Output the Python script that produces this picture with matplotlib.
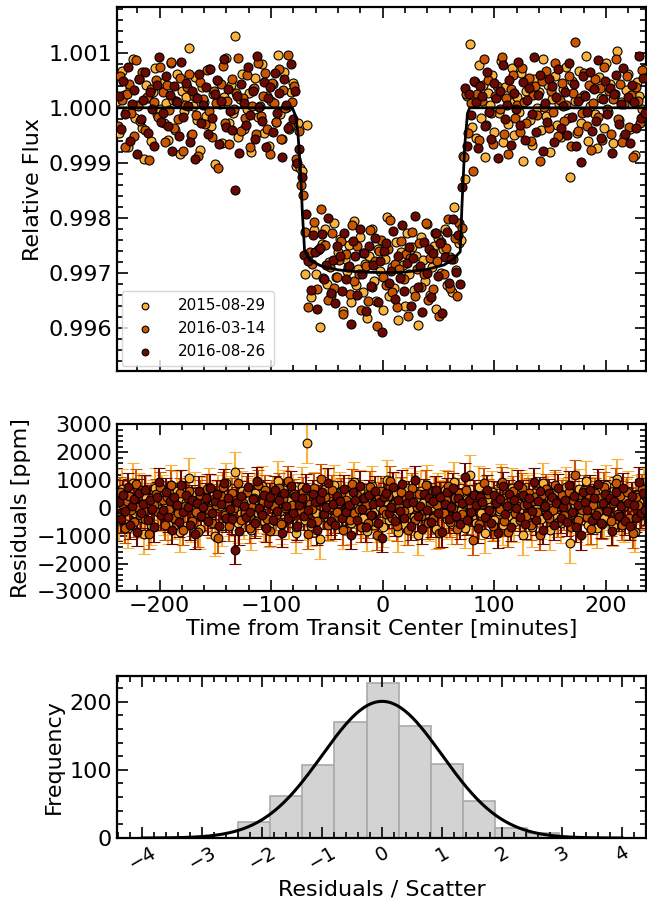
import numpy as np
import matplotlib
matplotlib.use("Agg")
import matplotlib.pyplot as plt
from matplotlib.ticker import MultipleLocator, FormatStrFormatter

# fecha de cada visita y su color
dates = ["2015-08-29", "2016-03-14", "2016-08-26"]
colors = ["#fbb23c", "#cc5500", "#6a0a02"]
t_start = [-238.0, -237.3, -236.6]   # minutos, primer punto de cada visita
cadence = 2.0                          # minutos entre puntos
err_ppm = [720, 540, 520]              # barra de error tipica por visita

res_2015 = [12, -45, 67, 23, -8, -71, 34, 88, -19, 5, 52, -36, -94, 41, 17, -60, 29, 73, -12, -3,
            46, -27, 9, -58, 81, 14, -40, 62, -85, 31, -6, 20, 108, -49, 3, 56, -22, -77, 38, 11,
            -15, 70, -33, 25, -102, 48, 7, -64, 19, 90, -28, 42, -9, 130, -53, 16, 61, -38, -2, 27,
            -80, 35, 54, -17, 4, 79, -46, 22, -70, 13, 44, -25, 97, -11, -57, 66, 1, -39, 28, 50,
            -91, 18, -5, 75, -43, 235, 8, -66, 58, -20, 26, -112, 40, 69, -31, 10, -48, 84, -14, 33,
            57, -74, 21, -1, 47, -56, 92, -24, 6, 63, -37, 15, -83, 30, 78, -16, -52, 43, 2, -68,
            24, 101, -42, 9, -29, 55, -87, 36, 13, -61, 71, -4, 45, -34, 26, -99, 60, 18, -21, 82,
            -47, 3, 39, -76, 52, -13, 29, 65, -41, 8, -58, 94, -26, 20, -6, 48, -72, 32, 117, -35,
            14, -55, 77, -18, 41, -89, 27, 5, 59, -44, 22, -10, 86, -63, 37, -30, 11, 72, -50, 19,
            -7, 64, -96, 31, 46, -23, -67, 53, 0, 28, -40, 89, -15, 42, -81, 16, 58, -32, 7, -54,
            35, 74, -19, -126, 49, 12, -45, 67, -28, 23, 95, -60, 4, 38, -12, -73, 56, 17, -37, 81,
            -8, 44, -64, 25, 103, -22, 10, -51, 33, 62, -39, 15, -86, 47, 21, -3, 70]
res_2016a = [-33, 58, 14, -71, 26, 43, -9, -52, 87, 3, -24, 66, -41, 19, -95, 35, 10, 50, -16, 74,
             29, -62, 41, -4, 83, -37, 12, -20, 55, -78, 6, 38, 61, -47, 22, -13, -88, 47, 16, -30,
             68, -6, -54, 31, 9, -109, 44, 76, -27, 13, -65, 52, -2, 27, 90, -43, 17, -19, 59, -72,
             4, 36, -48, 81, -15, 21, 63, -39, -84, 45, 8, -25, 70, -57, 32, -1, 97, -33, 11, 49,
             -68, 24, -11, 56, 37, -92, 15, -5, 73, -46, 28, 104, -21, 40, -60, 2, 65, -35, -14, 18,
             53, -79, 30, 7, -42, 85, -18, 46, -3, -69, 34, 12, -53, 77, -26, 20, -98, 39, 60, -8,
             -23, 42, 95, -36, 16, -64, 5, 57, -12, 33, -81, 25, 71, -45, 3, 49, -30, -7, 84, -56,
             19, -38, 62, 10, -90, 43, -17, 28, 79, -50, 1, 36, -74, 54, -22, 15, 66, -40, 8, -115,
             47, 26, -59, 13, 88, -31, 51, -10, -66, 22, 40, -3, 93, -48, 17, -85, 34, 60, -19, 6,
             -44, 72, 11, -28, 55, -61, 24, 39, -14, -96, 48, 2, 67, -37, 30, -8, 82, -52, 14, 45,
             -24, 5, 58, -70, 27, 120, -43, 18, -9, 64, -33, 41, -76, 9, 52, -16, 36, -58, 75, -2,
             31, -47, 16, 89, -21, 44, -63, 7, 57, -35, 23, -89, 38, 12, -27, 69, -11]
res_2016b = [21, -39, 48, -12, 75, -60, 7, 33, -85, 52, -20, 14, 66, -45, 29, -3, -70, 41, 92, -26,
             -9, 57, -33, 24, -78, 39, 11, -51, 83, -16, 46, 3, -62, 30, -94, 18, 61, -28, 5, 37,
             -47, 70, -19, 26, 50, -66, 13, 88, -35, 35, -5, -40, -150, 22, -83, 44, 8, -31, 74, -14,
             31, -56, 95, 1, -24, 47, -72, 17, 38, -44, 64, -10, 27, -89, 53, 6, -36, 80, -18, 42,
             -65, 12, 36, -29, 71, -7, -53, 49, 20, -81, 32, 58, -23, 4, 90, -46, 15, -61, 43, 25,
             -38, 68, -15, 9, -97, 56, 28, -42, 79, -4, 34, -70, 47, -25, 13, 62, -54, 21, -108, 39,
             54, -20, 3, 76, -48, 30, -11, 86, -35, 16, 45, -64, 23, 99, -30, 8, -77, 51, -6, 37,
             -52, 26, 63, -17, 41, -87, 14, 57, -39, 2, 72, -28, 35, -59, 18, 110, -45, 29, -13, 48,
             10, -73, 39, 22, -34, 65, -8, -56, 45, 17, -91, 31, 78, -21, 6, 50, -67, 27, -2, 84,
             -31, 47, -58, 15, 36, -12, 92, -44, 24, 60, -79, 8, -26, 53, 40, -63, 19, 71, -37, 3,
             28, -50, 81, -16, 44, -69, 12, -98, 57, 22, -7, 66, -42, 34, -24, 87, -55, 16, 49, -11,
             36, -82, 25, 59, -30, 7, 73, -47, 19, -64, 42, 11, -36, 94, -19, 55, -9]
residuals = [res_2015, res_2016a, res_2016b]

model_t = [-240, -81, -78, -76, -73.5, -72, -70, -65, -55, -40, -20, 0, 20, 40, 55, 63,
           69.5, 71, 73.5, 76, 78, 240]
model_f = [1.0, 1.0, 0.99985, 0.99955, 0.9988, 0.9981, 0.99740, 0.99722, 0.99712, 0.99705,
           0.99701, 0.99700, 0.99701, 0.99706, 0.99714, 0.99724, 0.99738, 0.9982, 0.9993,
           0.9999, 1.0, 1.0]

# histograma de residuos / dispersion
hist_left = -2.40
hist_width = 0.535
hist_counts = [23, 62, 107, 170, 227, 164, 109, 54, 15, 8]

plt.rcParams['font.size'] = 16
fig = plt.figure(figsize=(6.47, 9.07), dpi=100)
ax1 = fig.add_axes([0.181, 0.591, 0.8175, 0.401])
ax2 = fig.add_axes([0.181, 0.348, 0.8175, 0.184])
ax3 = fig.add_axes([0.181, 0.076, 0.8175, 0.179])

def estilo(ax):
    ax.tick_params(which='both', direction='in', top=True, right=True, width=1.2)
    ax.tick_params(which='major', length=8)
    ax.tick_params(which='minor', length=4)
    for s in ax.spines.values():
        s.set_linewidth(1.6)

for i in range(3):
    res = np.array(residuals[i]) * 10.0
    t = t_start[i] + cadence * np.arange(len(res))
    flux = np.interp(t, model_t, model_f) + res * 1e-6
    ax1.scatter(t, flux, s=42, color=colors[i], edgecolors='k', linewidths=0.8,
                label=dates[i], zorder=3)
    ax2.errorbar(t, res, yerr=err_ppm[i], fmt='o', color=colors[i], ecolor=colors[i],
                 mec='k', mew=0.8, ms=6.3, capsize=4, elinewidth=1.5, capthick=1.5)

ax1.plot(model_t, model_f, color='k', lw=2, zorder=4)
ax1.set_xlim(-238, 236)
ax1.set_ylim(0.99521, 1.00183)
ax1.yaxis.set_major_locator(MultipleLocator(0.001))
ax1.yaxis.set_minor_locator(MultipleLocator(0.0002))
ax1.yaxis.set_major_formatter(FormatStrFormatter('%.3f'))
ax1.xaxis.set_major_locator(MultipleLocator(100))
ax1.xaxis.set_minor_locator(MultipleLocator(20))
ax1.set_xticklabels([])
ax1.set_ylabel('Relative Flux')
estilo(ax1)
leg = ax1.legend(loc='lower left', fontsize=11, scatterpoints=1, markerscale=0.75,
                 borderaxespad=0.3, handletextpad=1.2, borderpad=0.5)
leg.set_zorder(10)

ax2.set_xlim(-238, 236)
ax2.set_ylim(-3000, 3000)
ax2.yaxis.set_major_locator(MultipleLocator(1000))
ax2.yaxis.set_minor_locator(MultipleLocator(200))
ax2.xaxis.set_major_locator(MultipleLocator(100))
ax2.xaxis.set_minor_locator(MultipleLocator(20))
ax2.set_ylabel('Residuals [ppm]')
ax2.set_xlabel('Time from Transit Center [minutes]', labelpad=2)
estilo(ax2)

edges = hist_left + hist_width * np.arange(len(hist_counts))
ax3.bar(edges, hist_counts, width=hist_width, align='edge', color='lightgray',
        edgecolor='darkgray', linewidth=1.2)
n_tot = sum(hist_counts)
xg = np.linspace(-4, 4, 400)
ax3.plot(xg, n_tot * hist_width / np.sqrt(2 * np.pi) * np.exp(-xg**2 / 2), color='k', lw=2.2)
ax3.set_xlim(-4.42, 4.4)
ax3.set_ylim(0, 238)
ax3.xaxis.set_major_locator(MultipleLocator(1))
ax3.xaxis.set_minor_locator(MultipleLocator(0.2))
ax3.yaxis.set_major_locator(MultipleLocator(100))
ax3.yaxis.set_minor_locator(MultipleLocator(20))
ax3.set_ylabel('Frequency')
ax3.set_xlabel('Residuals / Scatter', labelpad=4)
estilo(ax3)
plt.setp(ax3.get_xticklabels(), rotation=30, fontsize=14)

fig.savefig('out.png', dpi=100)
